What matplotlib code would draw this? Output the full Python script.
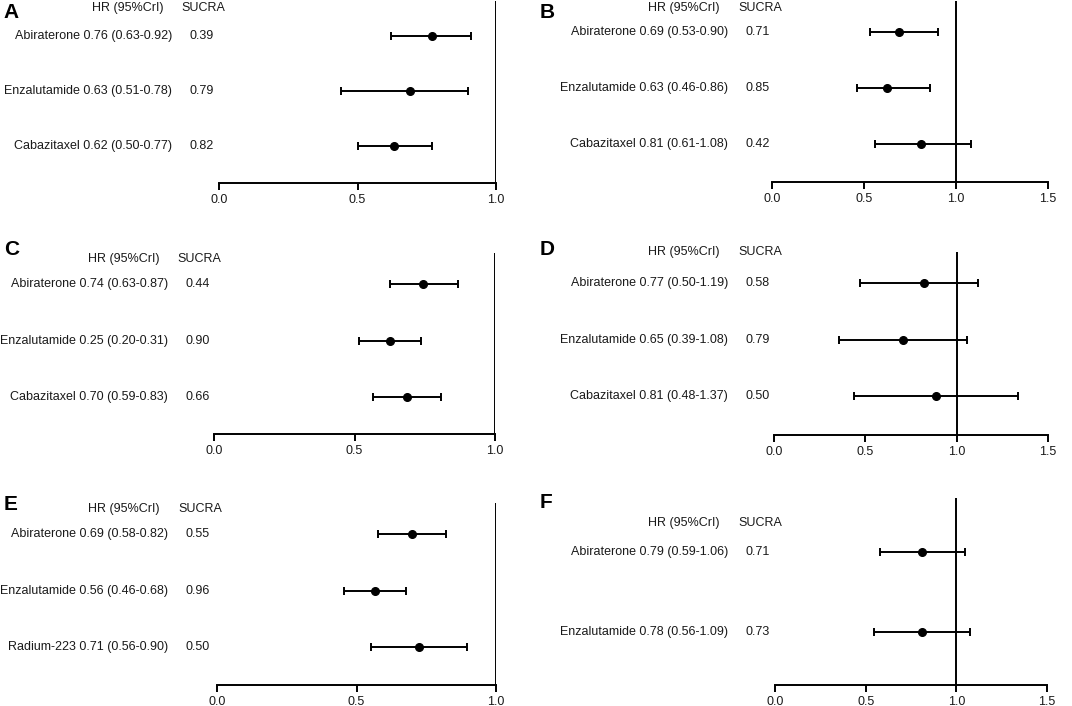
import matplotlib
matplotlib.use("Agg")
import matplotlib.pyplot as plt
from matplotlib.transforms import blended_transform_factory

plt.rcParams['font.family'] = ['Liberation Sans', 'DejaVu Sans']

W, H = 1072, 706

# ---- data per panel ----
namesA = ['Abiraterone', 'Enzalutamide', 'Cabazitaxel']
hrA = ['0.76 (0.63-0.92)', '0.63 (0.51-0.78)', '0.62 (0.50-0.77)']
sucraA = ['0.39', '0.79', '0.82']
estA = [0.77, 0.69, 0.63]
loA = [0.62, 0.44, 0.50]
hiA = [0.91, 0.90, 0.77]

namesB = ['Abiraterone', 'Enzalutamide', 'Cabazitaxel']
hrB = ['0.69 (0.53-0.90)', '0.63 (0.46-0.86)', '0.81 (0.61-1.08)']
sucraB = ['0.71', '0.85', '0.42']
estB = [0.69, 0.625, 0.81]
loB = [0.53, 0.46, 0.56]
hiB = [0.90, 0.86, 1.08]

namesC = ['Abiraterone', 'Enzalutamide', 'Cabazitaxel']
hrC = ['0.74 (0.63-0.87)', '0.25 (0.20-0.31)', '0.70 (0.59-0.83)']
sucraC = ['0.44', '0.90', '0.66']
estC = [0.745, 0.626, 0.686]
loC = [0.626, 0.516, 0.565]
hiC = [0.867, 0.738, 0.808]

namesD = ['Abiraterone', 'Enzalutamide', 'Cabazitaxel']
hrD = ['0.77 (0.50-1.19)', '0.65 (0.39-1.08)', '0.81 (0.48-1.37)']
sucraD = ['0.58', '0.79', '0.50']
estD = [0.82, 0.705, 0.886]
loD = [0.472, 0.357, 0.436]
hiD = [1.117, 1.055, 1.338]

namesE = ['Abiraterone', 'Enzalutamide', 'Radium-223']
hrE = ['0.69 (0.58-0.82)', '0.56 (0.46-0.68)', '0.71 (0.56-0.90)']
sucraE = ['0.55', '0.96', '0.50']
estE = [0.698, 0.567, 0.724]
loE = [0.576, 0.456, 0.552]
hiE = [0.819, 0.678, 0.895]

namesF = ['Abiraterone', 'Enzalutamide']
hrF = ['0.79 (0.59-1.06)', '0.78 (0.56-1.09)']
sucraF = ['0.71', '0.73']
estF = [0.81, 0.808]
loF = [0.577, 0.544]
hiF = [1.047, 1.076]

# ---- layout (pixels): x of 0.0, x of xmax, top, axis line y; row-unit limits ----
panels = [
    dict(tag='A', names=namesA, hr=hrA, sucra=sucraA, est=estA, lo=loA, hi=hiA,
         xmax=1.0, x0=219, x1=496, top=1, bot=183, ylim=(2.67, -0.64), hdr=-0.51,
         lab_r=172, suc_l=190, hdr_r=163, shdr_l=181, tag_x=3, tag_y=13),
    dict(tag='B', names=namesB, hr=hrB, sucra=sucraB, est=estB, lo=loB, hi=hiB,
         xmax=1.5, x0=772, x1=1048, top=1, bot=182, ylim=(2.68, -0.55), hdr=-0.43,
         lab_r=728, suc_l=745, hdr_r=720, shdr_l=738, tag_x=540, tag_y=13),
    dict(tag='C', names=namesC, hr=hrC, sucra=sucraC, est=estC, lo=loC, hi=hiC,
         xmax=1.0, x0=214, x1=495, top=253, bot=434, ylim=(2.65, -0.55), hdr=-0.44,
         lab_r=168, suc_l=186, hdr_r=159, shdr_l=177, tag_x=4, tag_y=250),
    dict(tag='D', names=namesD, hr=hrD, sucra=sucraD, est=estD, lo=loD, hi=hiD,
         xmax=1.5, x0=774, x1=1048, top=252, bot=435, ylim=(2.69, -0.55), hdr=-0.55,
         lab_r=728, suc_l=745, hdr_r=720, shdr_l=738, tag_x=540, tag_y=250),
    dict(tag='E', names=namesE, hr=hrE, sucra=sucraE, est=estE, lo=loE, hi=hiE,
         xmax=1.0, x0=217, x1=496, top=503, bot=685, ylim=(2.67, -0.55), hdr=-0.44,
         lab_r=168, suc_l=186, hdr_r=160, shdr_l=178, tag_x=4, tag_y=504),
    dict(tag='F', names=namesF, hr=hrF, sucra=sucraF, est=estF, lo=loF, hi=hiF,
         xmax=1.5, x0=775, x1=1047, top=498, bot=685, ylim=(1.66, -0.675), hdr=-0.36,
         lab_r=728, suc_l=745, hdr_r=720, shdr_l=738, tag_x=540, tag_y=503),
]

fig = plt.figure(figsize=(W / 100, H / 100), dpi=100)
fs = 9
tc = '#1a1a1a'

for p in panels:
    ax = fig.add_axes([p['x0'] / W, 1 - p['bot'] / H,
                       (p['x1'] - p['x0']) / W, (p['bot'] - p['top']) / H])
    rows = list(range(len(p['names'])))
    xerr = [[e - l for e, l in zip(p['est'], p['lo'])],
            [h - e for e, h in zip(p['est'], p['hi'])]]
    ax.errorbar(p['est'], rows, xerr=xerr, fmt='o', color='black', ms=5.5,
                elinewidth=1.4, capsize=2.7, capthick=1.4, clip_on=False, zorder=3)
    ax.axvline(1.0, color='black', lw=1.4, zorder=2)

    ax.set_xlim(0, p['xmax'])
    ax.set_ylim(*p['ylim'])
    ticks = [0.0, 0.5, 1.0] if p['xmax'] == 1.0 else [0.0, 0.5, 1.0, 1.5]
    ax.set_xticks(ticks)
    ax.set_xticklabels(['%.1f' % t for t in ticks], fontsize=fs, color=tc)
    ax.set_yticks([])
    for s in ['top', 'left', 'right']:
        ax.spines[s].set_visible(False)
    ax.spines['bottom'].set_linewidth(1.4)
    ax.tick_params(axis='x', length=5, width=1.4, pad=3)
    ax.patch.set_alpha(0)

    tr = blended_transform_factory(fig.transFigure, ax.transData)
    for i, (n, h, s) in enumerate(zip(p['names'], p['hr'], p['sucra'])):
        ax.text(p['lab_r'] / W, i, n + ' ' + h, transform=tr, ha='right',
                va='center', fontsize=fs, color=tc)
        ax.text(p['suc_l'] / W, i, s, transform=tr, ha='left',
                va='center', fontsize=fs, color=tc)
    ax.text(p['hdr_r'] / W, p['hdr'], 'HR (95%CrI)', transform=tr, ha='right',
            va='center', fontsize=fs, color=tc)
    ax.text(p['shdr_l'] / W, p['hdr'], 'SUCRA', transform=tr, ha='left',
            va='center', fontsize=fs, color=tc)

    fig.text(p['tag_x'] / W, 1 - p['tag_y'] / H, p['tag'], ha='left', va='center',
             fontsize=15, fontweight='bold')

fig.savefig('out.png', dpi=100)
